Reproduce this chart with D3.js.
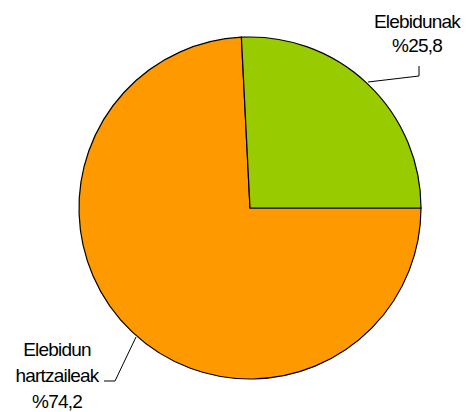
<!DOCTYPE html>
<html><head><meta charset="utf-8">
<script src="https://cdn.jsdelivr.net/npm/d3@7"></script>
<style>body{margin:0;background:#fff}</style>
</head><body>
<svg id="c" width="470" height="412"></svg>
<script>
const categories = ["Elebidun hartzaileak", "Elebidunak"];
const values = [74.2, 25.8];
const labelLines = [["Elebidun", "hartzaileak", "%74,2"], ["Elebidunak", "%25,8"]];
const colors = ["#FF9900", "#99CC00"];

const svg = d3.select("#c");
const cx = 250, cy = 208, r = 171;
const g = svg.append("g").attr("transform", `translate(${cx},${cy})`);
const pie = d3.pie().sort(null).value(d => d).startAngle(Math.PI/2).endAngle(Math.PI/2 + 2*Math.PI);
const arcs = pie(values);
const arc = d3.arc().innerRadius(0).outerRadius(r);
g.selectAll("path").data(arcs).enter().append("path")
  .attr("d", arc).attr("fill", (d,i) => colors[i])
  .attr("stroke", "#000").attr("stroke-width", 1.2);

// leader lines
const leaders = [
  [[136, 337], [115, 381], [104, 381]],
  [[368, 82], [419, 76], [419, 66]]
];
svg.selectAll("polyline").data(leaders).enter().append("polyline")
  .attr("points", d => d.map(p => p.join(",")).join(" "))
  .attr("fill", "none").attr("stroke", "#000").attr("stroke-width", 1);

const labelPos = [[57, 356, 26], [417, 28, 24]];
labelLines.forEach((lines, i) => {
  const [x, y, dy] = labelPos[i];
  const t = svg.append("text").attr("text-anchor", "middle")
    .attr("font-family", "Liberation Sans, Arial, sans-serif")
    .attr("font-size", 19).attr("letter-spacing", "-0.8").attr("fill", "#000");
  lines.forEach((s, j) => t.append("tspan").attr("x", x).attr("y", y + j*dy).text(s));
});
</script>
</body></html>
